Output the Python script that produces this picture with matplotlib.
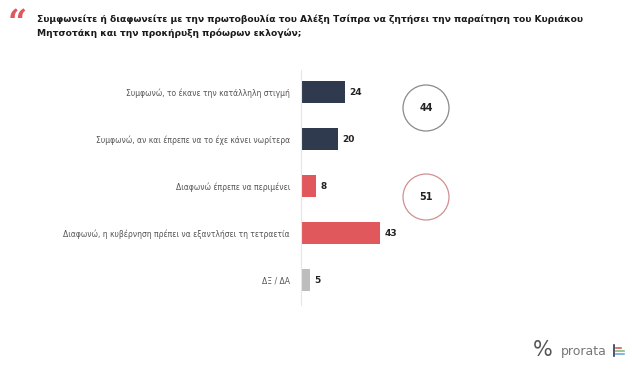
import matplotlib
matplotlib.use("Agg")
import matplotlib.pyplot as plt
from matplotlib.patches import Circle

# data
labels = ["Συμφωνώ, το έκανε την κατάλληλη στιγμή",
          "Συμφωνώ, αν και έπρεπε να το έχε κάνει νωρίτερα",
          "Διαφωνώ έπρεπε να περιμένει",
          "Διαφωνώ, η κυβέρνηση πρέπει να εξαντλήσει τη τετραετία",
          "ΔΞ / ΔΑ"]
values = [24, 20, 8, 43, 5]
groups = ["agree", "agree", "disagree", "disagree", "dk"]
totals = [44, 51]
title = ("Συμφωνείτε ή διαφωνείτε με την πρωτοβουλία του Αλέξη Τσίπρα να ζητήσει την παραίτηση του Κυριάκου\n"
         "Μητσοτάκη και την προκήρυξη πρόωρων εκλογών;")

colors = {"agree": "#2f3a4f", "disagree": "#e0585c", "dk": "#bdbdbd"}

W, H = 632, 375
fig = plt.figure(figsize=(W / 100, H / 100), dpi=100)
fig.patch.set_facecolor("white")

# bar axes, placed in pixel terms
x0, x1, ytop, ybot = 301, 632, 70, 305
ax = fig.add_axes([x0 / W, 1 - ybot / H, (x1 - x0) / W, (ybot - ytop) / H])
pos = list(range(len(values)))
ax.barh(pos, values, height=0.47, color=[colors[g] for g in groups])
ax.set_xlim(0, (x1 - x0) / 1.83)
ax.set_ylim(4.53, -0.468)
for s in ["top", "right", "bottom"]:
    ax.spines[s].set_visible(False)
ax.spines["left"].set_color("#e6e6e6")
ax.spines["left"].set_linewidth(0.8)
ax.set_xticks([])
ax.set_yticks(pos)
ax.set_yticklabels(labels, fontsize=5.5, color="#555555")
ax.tick_params(axis="y", length=0, pad=8)
for p, v in zip(pos, values):
    ax.text(v + 2.5, p, str(v), va="center", ha="left", fontsize=6.5,
            fontweight="bold", color="#222222")

# overlay in pixel coordinates
ov = fig.add_axes([0, 0, 1, 1])
ov.set_xlim(0, W)
ov.set_ylim(H, 0)
ov.axis("off")
ov.patch.set_alpha(0)

ov.text(8, 23, "\u201c", fontsize=24, fontweight="bold", color="#e0585c",
        ha="left", va="center", family="DejaVu Serif")
ov.text(37, 15, title, fontsize=6.6, fontweight="bold", color="#1a1a1a",
        ha="left", va="top", linespacing=1.55)

circle_y = [108, 197]
circle_edge = ["#8a8a8a", "#d09090"]
for cy, t, ec in zip(circle_y, totals, circle_edge):
    ov.add_patch(Circle((426, cy), 23, fill=False, edgecolor=ec, linewidth=0.9))
    ov.text(426, cy, str(t), ha="center", va="center", fontsize=7,
            fontweight="bold", color="#222222")

ov.text(543, 350, "%", fontsize=15, color="#555555", ha="center", va="center")
ov.text(561, 351, "prorata", fontsize=9, color="#777777", ha="left", va="center")
ov.plot([614, 614], [345, 356], color="#2f3a4f", lw=1.2)
ov.plot([616, 621], [348, 348], color="#e0585c", lw=1.2)
ov.plot([616, 624], [351, 351], color="#7fbf7f", lw=1.2)
ov.plot([616, 624], [354, 354], color="#6fa8dc", lw=1.2)

fig.savefig("out.png", dpi=100)
